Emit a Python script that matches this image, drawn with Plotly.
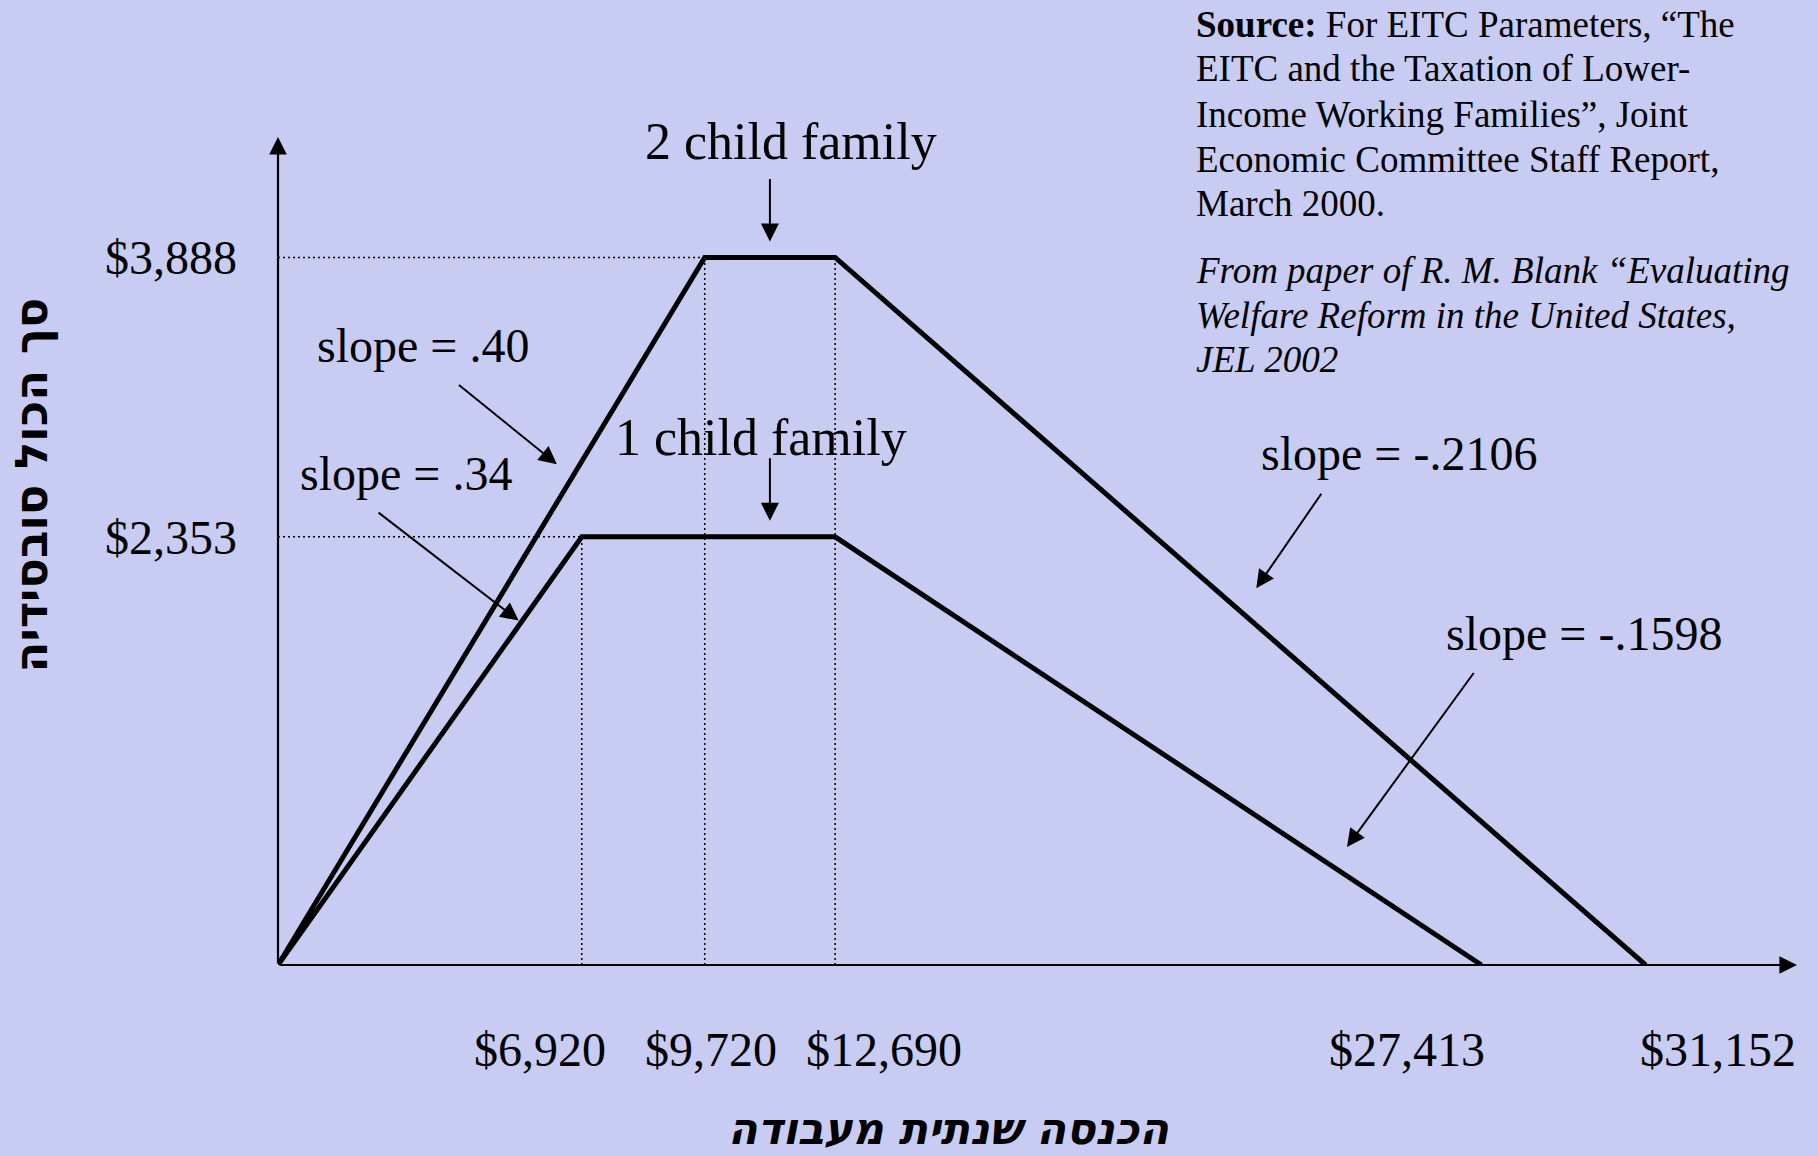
import plotly.graph_objects as go

# EITC schedules (income, credit)
income_2child = [0, 9720, 12690, 31152]
credit_2child = [0, 3888, 3888, 0]
income_1child = [0, 6920, 12690, 27413]
credit_1child = [0, 2353, 2353, 0]

x_ticks = [6920, 9720, 12690, 27413, 31152]
x_ticktext = ["$6,920", "$9,720", "$12,690", "$27,413", "$31,152"]
y_ticks = [2353, 3888]
y_ticktext = ["$2,353", "$3,888"]

slope_text = ["slope = .40", "slope = .34", "slope = -.2106", "slope = -.1598"]
family_text = ["2 child family", "1 child family"]

source_lines = [
    "<b>Source:</b> For EITC Parameters, \u201cThe",
    "EITC and the Taxation of Lower-",
    "Income Working Families\u201d, Joint",
    "Economic Committee Staff Report,",
    "March 2000.",
]
paper_lines = [
    "From paper of R. M. Blank \u201cEvaluating",
    "Welfare Reform in the United States,",
    "JEL 2002",
]

BG = "#C9CCF2"
SERIF = "Liberation Serif, Times New Roman, serif"
HEB = "DejaVu Sans, Liberation Sans, sans-serif"

W, H = 1818, 1156
L, R, T, B = 278, 1797, 137, 965
PW, PH = R - L, B - T
XMAX, YMAX = 34600, 4550


def px(xp, yp):
    return (xp - L) / PW, (B - yp) / PH


fig = go.Figure()

# dotted guide lines
gx = [0, income_2child[1], None, 0, income_1child[1], None,
      income_1child[1], income_1child[1], None,
      income_2child[1], income_2child[1], None,
      income_2child[2], income_2child[2]]
gy = [credit_2child[1], credit_2child[1], None, credit_1child[1], credit_1child[1], None,
      0, credit_1child[1], None,
      0, credit_2child[1], None,
      0, credit_2child[2]]
fig.add_trace(go.Scatter(x=gx, y=gy, mode="lines",
                         line=dict(color="black", width=1.5, dash="2px,3px"),
                         hoverinfo="skip"))

fig.add_trace(go.Scatter(x=income_2child, y=credit_2child, mode="lines",
                         line=dict(color="black", width=5), name="2 child"))
fig.add_trace(go.Scatter(x=income_1child, y=credit_1child, mode="lines",
                         line=dict(color="black", width=5), name="1 child"))

ann = []

# axis arrows
ann.append(dict(x=XMAX, y=0, ax=0, ay=0, xref="x", yref="y", axref="x", ayref="y",
                text="", showarrow=True, arrowhead=2, arrowsize=1.6, arrowwidth=2.2,
                arrowcolor="black"))
ann.append(dict(x=0, y=YMAX, ax=0, ay=0, xref="x", yref="y", axref="x", ayref="y",
                text="", showarrow=True, arrowhead=2, arrowsize=1.6, arrowwidth=2.2,
                arrowcolor="black"))

# x tick labels, nudged like the slide
x_nudge = [-42, 6, 49, -74, 72]
for xv, tt, dx in zip(x_ticks, x_ticktext, x_nudge):
    ann.append(dict(x=xv, y=0, xref="x", yref="y", text=tt, showarrow=False,
                    xshift=dx, yshift=-84, font=dict(family=SERIF, size=48, color="black")))

# family labels pointing at the plateaus
mid = (income_2child[1] + income_2child[2]) / 2
fam_y = [credit_2child[1], credit_1child[1]]
fam_shift = [(21, 116), (-9, 99)]
for txt, yv, (sx, sy) in zip(family_text, fam_y, fam_shift):
    ann.append(dict(x=mid, y=yv, xref="x", yref="y", text=txt, showarrow=False,
                    xshift=sx, yshift=sy, font=dict(family=SERIF, size=52, color="black")))
    ann.append(dict(x=mid, y=yv, xref="x", yref="y", text="", showarrow=True,
                    ax=0, ay=-80, standoff=16, arrowhead=2, arrowsize=1.8,
                    arrowwidth=2, arrowcolor="black"))

# slope labels: (series, segment start, fraction, tail dx, tail dy, standoff, text shift)
segs = [
    (income_2child, credit_2child, 0, 0.69, -115, -93, 20, (-149, 131)),
    (income_1child, credit_1child, 0, 0.80, -144, -111, 3, (-115, 149)),
    (income_2child, credit_2child, 2, 0.50, 82, -119, 28, (159, 158)),
    (income_1child, credit_1child, 2, 0.77, 142, -195, 24, (251, 233)),
]
for txt, (xs, ys, i, t, adx, ady, so, (sx, sy)) in zip(slope_text, segs):
    tx = xs[i] + t * (xs[i + 1] - xs[i])
    ty = ys[i] + t * (ys[i + 1] - ys[i])
    ann.append(dict(x=tx, y=ty, xref="x", yref="y", text="", showarrow=True,
                    ax=adx, ay=ady, standoff=so, arrowhead=2, arrowsize=1.8,
                    arrowwidth=2, arrowcolor="black"))
    ann.append(dict(x=tx, y=ty, xref="x", yref="y", text=txt, showarrow=False,
                    xshift=sx, yshift=sy, font=dict(family=SERIF, size=48, color="black")))

# source note
src_y = [24, 68, 114, 159, 203]
for line, yp in zip(source_lines, src_y):
    xx, yy = px(1194, yp)
    ann.append(dict(x=xx, y=yy, xref="paper", yref="paper", text=line, showarrow=False,
                    xanchor="left", yanchor="middle",
                    font=dict(family=SERIF, size=37, color="black")))
par_y = [270, 315, 359]
for line, yp in zip(paper_lines, par_y):
    xx, yy = px(1194, yp)
    ann.append(dict(x=xx, y=yy, xref="paper", yref="paper", text="<i>" + line + "</i>",
                    showarrow=False, xanchor="left", yanchor="middle",
                    font=dict(family=SERIF, size=37, color="black")))

# axis titles (Hebrew)
xx, yy = px(2, 485)
ann.append(dict(x=xx, y=yy, xref="paper", yref="paper", text="<b>סך הכול סובסידיה</b>",
                showarrow=False, textangle=-90,
                font=dict(family=HEB, size=45, color="black")))
xx, yy = px(948, 1155)
ann.append(dict(x=xx, y=yy, xref="paper", yref="paper", text="<b>הכנסה שנתית מעבודה</b>",
                showarrow=False, yanchor="bottom", borderpad=0,
                font=dict(family=HEB, size=43, color="black", style="italic")))

fig.update_layout(
    width=W, height=H, autosize=False,
    margin=dict(l=L, r=W - R, t=T, b=H - B, pad=0),
    paper_bgcolor=BG, plot_bgcolor=BG,
    showlegend=False,
    annotations=ann,
    xaxis=dict(range=[0, XMAX], showgrid=False, zeroline=False, showline=False,
               showticklabels=False, ticks=""),
    yaxis=dict(range=[0, YMAX], showgrid=False, zeroline=False, showline=False,
               tickvals=y_ticks, ticktext=y_ticktext, ticks="", ticklabelstandoff=40,
               tickfont=dict(family=SERIF, size=48, color="black")),
)

fig.write_html("out.html", config={"displayModeBar": False},
               post_script="document.body.style.margin='0';")
